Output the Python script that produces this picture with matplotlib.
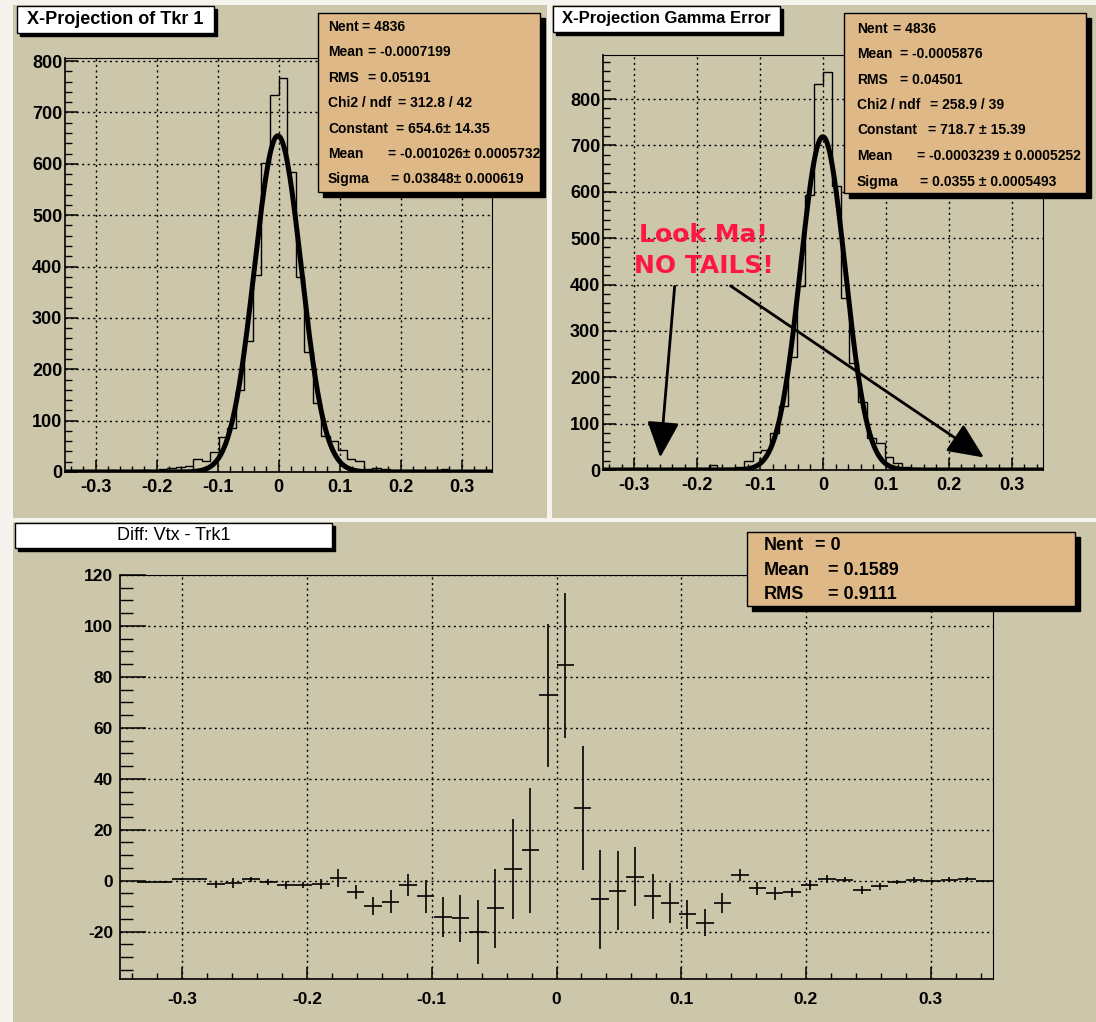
import matplotlib
matplotlib.use('Agg')
import matplotlib.pyplot as plt
from matplotlib.patches import Rectangle
from matplotlib.ticker import MultipleLocator, FixedLocator, FixedFormatter
import numpy as np

# Data (50 bins over [-0.35, 0.35])
bin_edges = np.linspace(-0.35, 0.35, 51)

tkr1_counts = [0, 1, 2, 2, 1, 3, 2, 1, 2, 3,
               2, 5, 7, 10, 12, 26, 21, 39, 69, 86,
               159, 255, 383, 602, 734, 768, 584, 379, 234, 135,
               70, 60, 42, 25, 22, 6, 8, 5, 4, 3,
               3, 4, 2, 3, 5, 2, 1, 2, 1, 0]
gamma_counts = [0, 0, 1, 0, 1, 0, 0, 1, 0, 0,
                1, 2, 11, 3, 4, 7, 20, 38, 43, 80,
                139, 243, 396, 593, 833, 858, 613, 372, 230, 147,
                70, 59, 27, 16, 7, 4, 2, 1, 0, 1,
                0, 0, 0, 0, 0, 0, 0, 0, 0, 0]
diff_vals = [np.nan, -0.5, -0.5, 0.5, 0.5, -1.5, -1.0, 0.5, -0.5, -1.7,
             -1.7, -1.2, 1.0, -4.4, -9.9, -8.2, -1.7, -6.1, -14.2, -14.8,
             -20.2, -10.9, 4.6, 11.9, 72.8, 84.6, 28.6, -7.3, -4.0, 1.6,
             -6.2, -8.8, -13.2, -16.5, -8.8, 2.2, -3.0, -5.0, -4.6, -1.6,
             0.7, 0.3, -3.6, -2.2, -0.7, 0.3, -0.3, 0.3, 0.7, 0.0]
diff_errs = [0, 0.3, 0.3, 0.3, 0.3, 1.2, 2.0, 1.0, 1.3, 1.6,
             1.0, 2.0, 3.5, 2.6, 3.4, 4.6, 4.3, 6.4, 7.9, 9.1,
             12.5, 15.6, 19.8, 24.4, 28.0, 28.5, 24.3, 19.5, 15.5, 11.6,
             8.9, 7.8, 5.8, 5.4, 4.0, 2.3, 2.6, 2.4, 1.8, 2.0,
             1.5, 1.0, 1.7, 1.4, 0.8, 1.1, 0.5, 1.0, 0.8, 0.0]

tkr1_fit = (654.6, -0.001026, 0.03848)
gamma_fit = (718.7, -0.0003239, 0.0355)

x_ticks = [-0.3, -0.2, -0.1, 0, 0.1, 0.2, 0.3]
x_labels = ['-0.3', '-0.2', '-0.1', '0', '0.1', '0.2', '0.3']

tkr1_stats = [('Nent', '= 4836'), ('Mean', '= -0.0007199'), ('RMS', '= 0.05191'),
              ('Chi2 / ndf', '= 312.8 / 42'), ('Constant', '= 654.6\u00b1 14.35'),
              ('Mean', '= -0.001026\u00b1 0.0005732'), ('Sigma', '= 0.03848\u00b1 0.000619')]
gamma_stats = [('Nent', '= 4836'), ('Mean', '= -0.0005876'), ('RMS', '= 0.04501'),
               ('Chi2 / ndf', '= 258.9 / 39'), ('Constant', '= 718.7 \u00b1 15.39'),
               ('Mean', '= -0.0003239 \u00b1 0.0005252'), ('Sigma', '= 0.0355 \u00b1 0.0005493')]
diff_stats = [('Nent', '= 0'), ('Mean', '= 0.1589'), ('RMS', '= 0.9111')]

# Style
W, H = 1096, 1022
tan = '#ccc6aa'
statfill = '#deb887'
plt.rcParams['font.family'] = ['Liberation Sans', 'DejaVu Sans']
plt.rcParams['axes.unicode_minus'] = False

fig = plt.figure(figsize=(W / 100, H / 100), dpi=100)
fig.patch.set_facecolor('#f4f3ee')


def fbox(x0, y0, x1, y1):
    # pixel box (top-left origin) -> figure fraction rectangle args
    return (x0 / W, 1 - y1 / H), (x1 - x0) / W, (y1 - y0) / H


def pad(x0, y0, x1, y1):
    xy, w, h = fbox(x0, y0, x1, y1)
    fig.add_artist(Rectangle(xy, w, h, transform=fig.transFigure,
                             facecolor=tan, edgecolor='none', zorder=-10))


pad(13, 5, 547, 518)
pad(552, 5, 1096, 518)
pad(13, 522, 1096, 1022)


def shadow_box(x0, y0, x1, y1, fill, off=5, lw=1.0):
    xy, w, h = fbox(x0 + off, y0 + off, x1 + off, y1 + off)
    fig.add_artist(Rectangle(xy, w, h, transform=fig.transFigure,
                             facecolor='black', edgecolor='black', zorder=10))
    xy, w, h = fbox(x0, y0, x1, y1)
    box = Rectangle(xy, w, h, transform=fig.transFigure,
                    facecolor=fill, edgecolor='black', lw=lw, zorder=11)
    fig.add_artist(box)
    return box


def title_box(x0, y0, x1, y1, text, size, weight):
    box = shadow_box(x0, y0, x1, y1, 'white', off=3)
    t = fig.text((x0 + x1) / 2 / W, 1 - (y0 + y1) / 2 / H, text, ha='center',
                 va='center', fontsize=size, fontweight=weight, zorder=12)
    t.set_clip_path(box)


def stats_box(x0, y0, x1, y1, rows, xl, xeq, ys, size):
    box = shadow_box(x0, y0, x1, y1, statfill)
    for (lab, val), xe, yy in zip(rows, xeq, ys):
        fig.text(xl / W, 1 - yy / H, lab, ha='left', va='center',
                 fontsize=size, fontweight='bold', zorder=12)
        t = fig.text(xe / W, 1 - yy / H, val, ha='left', va='center',
                     fontsize=size, fontweight='bold', zorder=12)
        t.set_clip_path(box)


def style_axes(ax, ylim, ymaj, ymin, ylen, xlen, fs, ypad, xpad):
    ax.set_facecolor(tan)
    ax.set_xlim(-0.35, 0.35)
    ax.set_ylim(*ylim)
    ax.xaxis.set_major_locator(FixedLocator(x_ticks))
    ax.xaxis.set_major_formatter(FixedFormatter(x_labels))
    ax.xaxis.set_minor_locator(MultipleLocator(0.02))
    ax.yaxis.set_major_locator(MultipleLocator(ymaj))
    ax.yaxis.set_minor_locator(MultipleLocator(ymin))
    ax.tick_params(axis='y', which='major', direction='in', length=ylen, width=1.1,
                   labelsize=fs, pad=ypad)
    ax.tick_params(axis='y', which='minor', direction='in', length=ylen / 2, width=1.0)
    ax.tick_params(axis='x', which='major', direction='in', length=xlen, width=1.1,
                   labelsize=fs, pad=xpad)
    ax.tick_params(axis='x', which='minor', direction='in', length=xlen / 2, width=1.0)
    for lab in ax.get_xticklabels() + ax.get_yticklabels():
        lab.set_fontweight('bold')
    for s in ax.spines.values():
        s.set_linewidth(1.2)
    ax.spines['top'].set_linewidth(0.8)
    ax.spines['right'].set_linewidth(0.8)
    ax.grid(True, which='major', color='black', linestyle=(0, (1.5, 2.5)), linewidth=1.0)
    ax.set_axisbelow(False)


def gaus(x, c, m, s):
    return c * np.exp(-0.5 * ((x - m) / s) ** 2)


xf = np.linspace(-0.35, 0.35, 700)

# Top-left: X-Projection of Tkr 1
ax1 = fig.add_axes([65 / W, 1 - 472 / H, 427 / W, 414 / H])
style_axes(ax1, (0, 806), 100, 20, 9.5, 9, 13, 2, 5)
ax1.stairs(tkr1_counts, bin_edges, color='black', lw=1.0)
ax1.plot(xf, gaus(xf, *tkr1_fit), color='black', lw=3.6, solid_capstyle='butt')

# Top-right: X-Projection Gamma Error
ax2 = fig.add_axes([603 / W, 1 - 470 / H, 440 / W, 415 / H])
style_axes(ax2, (0, 895), 100, 20, 9.5, 9, 13, 2, 5)
ax2.stairs(gamma_counts, bin_edges, color='black', lw=1.0)
ax2.plot(xf, gaus(xf, *gamma_fit), color='black', lw=3.6, solid_capstyle='butt')

red = '#ff1744'
ax2.text(-0.19, 507, 'Look Ma!', color=red, fontsize=18, fontweight='bold',
         ha='center', va='center', family=['DejaVu Sans'], zorder=6)
ax2.text(-0.19, 441, 'NO TAILS!', color=red, fontsize=18, fontweight='bold',
         ha='center', va='center', family=['DejaVu Sans'], zorder=6)
arrow = dict(arrowstyle='-|>,head_length=1.0,head_width=0.45', color='black',
             lw=2.0, mutation_scale=22, shrinkA=0, shrinkB=0)
ax2.annotate('', xy=(-0.259, 27), xytext=(-0.236, 396), arrowprops=arrow, zorder=6)
ax2.annotate('', xy=(0.256, 27), xytext=(-0.147, 397), arrowprops=arrow, zorder=6)

# Bottom: Diff Vtx - Trk1
ax3 = fig.add_axes([120 / W, 1 - 979 / H, 873 / W, 404 / H])
style_axes(ax3, (-38.6, 120), 20, 5, 19, 9, 12.5, 5, 9)
centers = 0.5 * (bin_edges[:-1] + bin_edges[1:])
ax3.errorbar(centers, diff_vals, xerr=0.007, yerr=diff_errs, fmt='none',
             ecolor='black', elinewidth=1.2, capsize=0)

# Title boxes and stats boxes
title_box(17, 6, 214, 33, 'X-Projection of Tkr 1', 13, 'bold')
title_box(553, 6, 780, 32, 'X-Projection Gamma Error', 12, 'bold')
title_box(15, 523, 332, 548, 'Diff: Vtx - Trk1', 13, 'normal')

stats_box(318, 13, 540, 192, tkr1_stats, 328, [362, 368, 368, 398, 396, 388, 391],
          [27, 52, 78, 103, 129, 154, 179], 10)
stats_box(844, 13, 1086, 193, gamma_stats, 857, [893, 900, 900, 930, 928, 917, 920],
          [29, 54, 80, 105, 130, 156, 182], 10)
stats_box(747, 532, 1075, 606, diff_stats, 764, [815, 828, 828],
          [545, 570, 594], 13)

fig.savefig('out.png', dpi=100, facecolor=fig.get_facecolor())
